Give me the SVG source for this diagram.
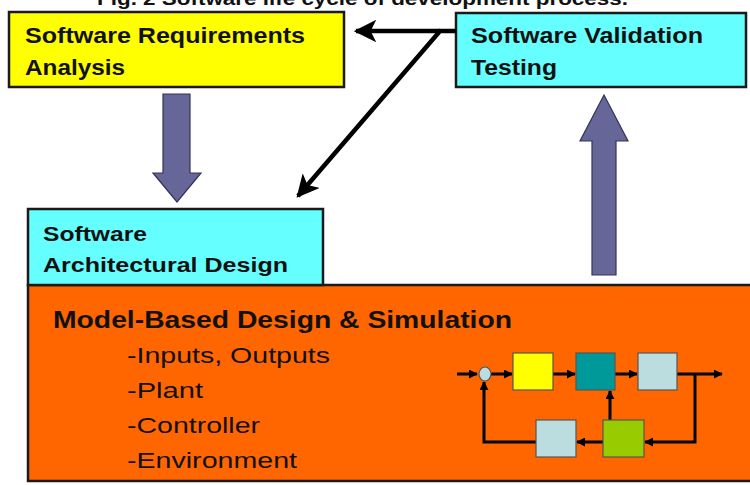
<svg xmlns="http://www.w3.org/2000/svg" width="750" height="485" viewBox="0 0 750 485">
  <style>
    .box { stroke: #1a1a1a; stroke-width: 2.5; }
    .hd { font-family: "Liberation Sans", Arial, sans-serif; font-weight: bold; fill: #111; }
    .li { font-family: "Liberation Sans", Arial, sans-serif; fill: #111; font-size: 22px; }
    .big { fill: #666699; stroke: #333355; stroke-width: 1.2; }
    .blk { stroke: #555; stroke-width: 1.2; }
    .wire { fill: none; stroke: #000; stroke-width: 3; }
    .conn { fill: none; stroke: #000; stroke-width: 4.5; }
  </style>
  <defs>
    <marker id="mk" viewBox="0 0 10 10" refX="9" refY="5" markerWidth="3" markerHeight="3" orient="auto" markerUnits="strokeWidth">
      <path d="M0,0 L10,5 L0,10 Z" fill="#000"/>
    </marker>
    <marker id="mkBig" viewBox="0 0 10 10" refX="9" refY="5" markerWidth="5" markerHeight="5" orient="auto" markerUnits="strokeWidth">
      <path d="M0,0 L10,5 L0,10 L2.5,5 Z" fill="#000"/>
    </marker>
  </defs>

  <!-- figure caption, partly above the top edge -->
  <text class="hd" x="97" y="5" font-size="18" textLength="531" lengthAdjust="spacingAndGlyphs">Fig. 2  Software life cycle of development process.</text>

  <!-- Model-Based Design & Simulation -->
  <g id="mbd">
    <rect class="box" x="28" y="285" width="730" height="196" fill="#ff6600"/>
    <text class="hd" x="53" y="328" font-size="23" textLength="459" lengthAdjust="spacingAndGlyphs">Model-Based Design &amp; Simulation</text>
    <text class="li" x="127" y="363" textLength="203" lengthAdjust="spacingAndGlyphs">-Inputs, Outputs</text>
    <text class="li" x="127" y="398" textLength="76" lengthAdjust="spacingAndGlyphs">-Plant</text>
    <text class="li" x="127" y="433" textLength="133" lengthAdjust="spacingAndGlyphs">-Controller</text>
    <text class="li" x="127" y="468" textLength="170" lengthAdjust="spacingAndGlyphs">-Environment</text>

    <!-- feedback loop sketch -->
    <g id="loop">
      <path class="wire" d="M457,374 H477" marker-end="url(#mk)"/>
      <path class="wire" d="M491,374 H512" marker-end="url(#mk)"/>
      <path class="wire" d="M553,374 H575" marker-end="url(#mk)"/>
      <path class="wire" d="M615,374 H637" marker-end="url(#mk)"/>
      <path class="wire" d="M677,374 H722" marker-end="url(#mk)"/>
      <path class="wire" d="M695,374 V442 H645" marker-end="url(#mk)"/>
      <path class="wire" d="M603,442 H577" marker-end="url(#mk)"/>
      <path class="wire" d="M610,420 V391" marker-end="url(#mk)"/>
      <path class="wire" d="M536,442 H484 V382" marker-end="url(#mk)"/>
      <ellipse class="blk" cx="485" cy="374" rx="6" ry="7" fill="#bcdde0"/>
      <rect class="blk" x="513" y="353" width="40" height="37" fill="#ffff00"/>
      <rect class="blk" x="576" y="353" width="39" height="37" fill="#009999"/>
      <rect class="blk" x="638" y="353" width="39" height="37" fill="#bbdde0"/>
      <rect class="blk" x="603" y="420" width="41" height="37" fill="#99cc00"/>
      <rect class="blk" x="536" y="420" width="40" height="37" fill="#bbdde0"/>
    </g>
  </g>

  <!-- Software Requirements Analysis -->
  <g id="req">
    <rect class="box" x="9" y="12" width="335" height="75" fill="#ffff00"/>
    <text class="hd" x="25" y="43" font-size="22" textLength="280" lengthAdjust="spacingAndGlyphs">Software Requirements</text>
    <text class="hd" x="25" y="75" font-size="22" textLength="100" lengthAdjust="spacingAndGlyphs">Analysis</text>
  </g>

  <!-- Software Validation Testing -->
  <g id="val">
    <rect class="box" x="456" y="13" width="290" height="74" fill="#66ffff"/>
    <text class="hd" x="471" y="43" font-size="22" textLength="232" lengthAdjust="spacingAndGlyphs">Software Validation</text>
    <text class="hd" x="471" y="75" font-size="22" textLength="86" lengthAdjust="spacingAndGlyphs">Testing</text>
  </g>

  <!-- Software Architectural Design -->
  <g id="arch">
    <rect class="box" x="28" y="209" width="295" height="76" fill="#66ffff"/>
    <text class="hd" x="43" y="241" font-size="21" textLength="104" lengthAdjust="spacingAndGlyphs">Software</text>
    <text class="hd" x="43" y="272" font-size="21" textLength="245" lengthAdjust="spacingAndGlyphs">Architectural Design</text>
  </g>

  <!-- connectors -->
  <g id="connectors">
    <!-- process flow arrows -->
    <path class="big" d="M163,94 H190 V173 H201 L177,202 L153,173 H163 Z"/>
    <path class="big" d="M592,275 V141 H580 L604,95 L628,141 H616 V275 Z"/>
    <!-- feedback from validation -->
    <path class="conn" d="M456,31 H440 L298,196" marker-end="url(#mkBig)"/>
    <path class="conn" d="M440,31 H356" marker-end="url(#mkBig)"/>
  </g>
</svg>
